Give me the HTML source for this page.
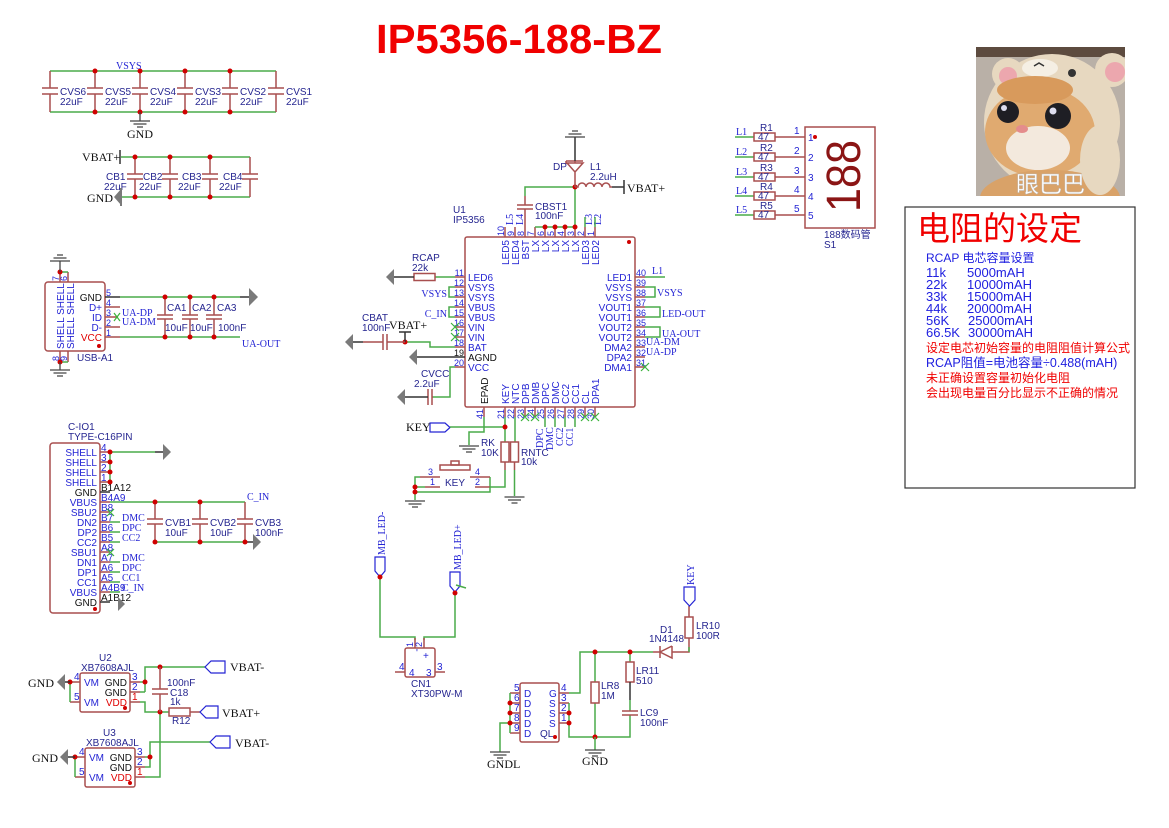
<!DOCTYPE html>
<html><head><meta charset="utf-8">
<style>
html,body{margin:0;padding:0;background:#fff;}
svg{display:block}
.w{stroke:#4aab4a;stroke-width:1.5;fill:none}
.p{stroke:#a84f4f;stroke-width:1.5;fill:none}
.pb{stroke:#a84f4f;stroke-width:1.5;fill:#fff}
.d{stroke:#333;stroke-width:1.5;fill:none}
.g{stroke:#444;stroke-width:1.3;fill:none}
.j{fill:#d00000}
.ar{fill:#7a7a7a}
.x{stroke:#3cb43c;stroke-width:1.2;fill:none}
.r{font-family:"Liberation Sans",sans-serif;font-size:10px;fill:#262690}
.pn{font-family:"Liberation Sans",sans-serif;font-size:10px;fill:#2424d4}
.nm{font-family:"Liberation Sans",sans-serif;font-size:9px;fill:#2424d4}
.nl{font-family:"Liberation Serif",serif;font-size:10px;fill:#2424d4}
.bk{font-family:"Liberation Serif",serif;font-size:12px;fill:#111}
.red{fill:#e00000}
.blk{fill:#111}
.cj{font-family:"Liberation Sans","Noto Sans CJK SC",sans-serif}
</style></head><body>
<svg width="1169" height="828" viewBox="0 0 1169 828" xmlns="http://www.w3.org/2000/svg">
<rect width="1169" height="828" fill="#fff"/>

<!-- Title -->
<text x="376" y="53" font-family="Liberation Sans, sans-serif" font-weight="bold" font-size="41" fill="#f00000" textLength="286" lengthAdjust="spacingAndGlyphs">IP5356-188-BZ</text>

<!-- ===== Top capacitor bank CVS ===== -->
<path class="w" d="M50 71H276M50 112H276"/>
<path class="p" d="M50 71V88M42 88H58M42 94H58M50 94V112
M95 71V88M87 88H103M87 94H103M95 94V112
M140 71V88M132 88H148M132 94H148M140 94V112
M185 71V88M177 88H193M177 94H193M185 94V112
M230 71V88M222 88H238M222 94H238M230 94V112
M276 71V88M268 88H284M268 94H284M276 94V112"/>
<g class="j"><circle cx="95" cy="71" r="2.5"/><circle cx="140" cy="71" r="2.5"/><circle cx="185" cy="71" r="2.5"/><circle cx="230" cy="71" r="2.5"/><circle cx="95" cy="112" r="2.5"/><circle cx="140" cy="112" r="2.5"/><circle cx="185" cy="112" r="2.5"/><circle cx="230" cy="112" r="2.5"/></g>
<g class="r">
<text x="60" y="95">CVS6</text><text x="60" y="105">22uF</text>
<text x="105" y="95">CVS5</text><text x="105" y="105">22uF</text>
<text x="150" y="95">CVS4</text><text x="150" y="105">22uF</text>
<text x="195" y="95">CVS3</text><text x="195" y="105">22uF</text>
<text x="240" y="95">CVS2</text><text x="240" y="105">22uF</text>
<text x="286" y="95">CVS1</text><text x="286" y="105">22uF</text>
</g>
<text class="nl" x="116" y="69">VSYS</text>
<path class="g" d="M140 112V121M130 121H150M133.5 124H146.5M137 127H143"/>
<text class="bk" x="127" y="138">GND</text>

<!-- ===== CB bank ===== -->
<path class="w" d="M121 157H250M121 197H250"/>
<path class="p" d="M135 157V174M127 174H143M127 179H143M135 179V197
M170 157V174M162 174H178M162 179H178M170 179V197
M210 157V174M202 174H218M202 179H218M210 179V197
M250 157V174M242 174H258M242 179H258M250 179V197"/>
<g class="j"><circle cx="135" cy="157" r="2.5"/><circle cx="170" cy="157" r="2.5"/><circle cx="210" cy="157" r="2.5"/><circle cx="135" cy="197" r="2.5"/><circle cx="170" cy="197" r="2.5"/><circle cx="210" cy="197" r="2.5"/></g>
<g class="r">
<text x="106" y="180">CB1</text><text x="104" y="190">22uF</text>
<text x="143" y="180">CB2</text><text x="139" y="190">22uF</text>
<text x="182" y="180">CB3</text><text x="178" y="190">22uF</text>
<text x="223" y="180">CB4</text><text x="219" y="190">22uF</text>
</g>
<text class="bk" x="82" y="161">VBAT+</text>
<path class="d" d="M120 150V164"/>
<text class="bk" x="87" y="202">GND</text>
<polygon class="ar" points="121,189 114,197 121,205"/>
<path stroke="#7a7a7a" stroke-width="2" d="M121 188V206"/>

<!-- ===== USB-A ===== -->
<rect x="45" y="282" width="60" height="69" rx="3" class="p"/>
<path class="p" d="M60 272V282M68 272V282M60 351V362M68 351V362"/>
<path class="w" d="M60 272H68M60 362H68"/>
<circle class="j" cx="60" cy="272" r="2.5"/><circle class="j" cx="60" cy="362" r="2.5"/>
<path class="g" d="M60 272V261M50 261H70M53.5 258H66.5M57 255H63"/>
<path class="g" d="M60 362V370M50 370H70M53.5 373H66.5M57 376H63"/>
<text class="nm" transform="translate(59,281) rotate(-90)">7</text>
<text class="nm" transform="translate(67,281) rotate(-90)">6</text>
<text class="nm" transform="translate(59,361) rotate(-90)">8</text>
<text class="nm" transform="translate(67,361) rotate(-90)">9</text>
<text class="pn" transform="translate(64,349) rotate(-90)">SHELL SHELL</text>
<text class="pn" transform="translate(74,349) rotate(-90)">SHELL SHELL</text>
<text class="pn blk" x="102" y="301" text-anchor="end">GND</text>
<text class="pn" x="102" y="311" text-anchor="end">D+</text>
<text class="pn" x="102" y="321" text-anchor="end">ID</text>
<text class="pn" x="102" y="331" text-anchor="end">D-</text>
<text class="pn red" x="102" y="341" text-anchor="end">VCC</text>
<circle class="j" cx="99" cy="346" r="2"/>
<path class="d" d="M105 297H120"/>
<path class="p" d="M105 307H120M105 317H118M105 327H120M105 337H120"/>
<g class="nm"><text x="106" y="296">5</text><text x="106" y="306">4</text><text x="106" y="316">3</text><text x="106" y="326">2</text><text x="106" y="336">1</text></g>
<path class="x" d="M114 313L120 321M120 313L114 321"/>
<path class="w" d="M120 297H240M120 337H240"/>
<path class="d" d="M240 297H249"/>
<polygon class="ar" points="249,288 258,297 249,306"/>
<path class="p" d="M165 297V315M157 315H173M157 319H173M165 319V337
M190 297V315M182 315H198M182 319H198M190 319V337
M214 297V315M206 315H222M206 319H222M214 319V337"/>
<g class="j"><circle cx="165" cy="297" r="2.5"/><circle cx="190" cy="297" r="2.5"/><circle cx="214" cy="297" r="2.5"/><circle cx="165" cy="337" r="2.5"/><circle cx="190" cy="337" r="2.5"/><circle cx="214" cy="337" r="2.5"/></g>
<g class="r">
<text x="167" y="311">CA1</text><text x="165" y="331">10uF</text>
<text x="192" y="311">CA2</text><text x="190" y="331">10uF</text>
<text x="217" y="311">CA3</text><text x="218" y="331">100nF</text>
</g>
<text class="nl" x="122" y="316">UA-DP</text>
<text class="nl" x="122" y="325">UA-DM</text>
<text class="nl" x="242" y="347">UA-OUT</text>
<text class="r" x="77" y="361">USB-A1</text>

<!-- ===== U1 IP5356 ===== -->
<text class="r" x="453" y="213">U1</text>
<text class="r" x="453" y="223">IP5356</text>
<rect x="465" y="237" width="170" height="170" rx="2" class="p"/>
<circle class="j" cx="629" cy="242" r="2"/>
<!-- top pins -->
<path class="p" d="M505 227V237M515 227V237M525 227V237M535 227V237M545 227V237M555 227V237M565 227V237M575 227V237M585 227V237M595 227V237"/>
<g class="nm">
<text transform="translate(504,236) rotate(-90)">10</text>
<text transform="translate(514,236) rotate(-90)">9</text>
<text transform="translate(524,236) rotate(-90)">8</text>
<text transform="translate(534,236) rotate(-90)">7</text>
<text transform="translate(544,236) rotate(-90)">6</text>
<text transform="translate(554,236) rotate(-90)">5</text>
<text transform="translate(564,236) rotate(-90)">4</text>
<text transform="translate(574,236) rotate(-90)">3</text>
<text transform="translate(584,236) rotate(-90)">2</text>
<text transform="translate(594,236) rotate(-90)">1</text>
</g>
<g class="pn" text-anchor="end">
<text transform="translate(509,240) rotate(-90)">LED5</text>
<text transform="translate(519,240) rotate(-90)">LED4</text>
<text transform="translate(529,240) rotate(-90)">BST</text>
<text transform="translate(539,240) rotate(-90)">LX</text>
<text transform="translate(549,240) rotate(-90)">LX</text>
<text transform="translate(559,240) rotate(-90)">LX</text>
<text transform="translate(569,240) rotate(-90)">LX</text>
<text transform="translate(579,240) rotate(-90)">LX</text>
<text transform="translate(589,240) rotate(-90)">LED3</text>
<text transform="translate(599,240) rotate(-90)">LED2</text>
</g>
<g class="nl">
<text transform="translate(513,225) rotate(-90)">L5</text>
<text transform="translate(523,225) rotate(-90)">L4</text>
<text transform="translate(592,225) rotate(-90)">L3</text>
<text transform="translate(601,225) rotate(-90)">L2</text>
</g>
<path class="w" d="M535 227H575M575 227V187M575 187H525V196M585 227V217M595 227V217"/>
<g class="j"><circle cx="545" cy="227" r="2.5"/><circle cx="555" cy="227" r="2.5"/><circle cx="565" cy="227" r="2.5"/><circle cx="575" cy="227" r="2.5"/><circle cx="575" cy="187" r="2.5"/></g>
<path class="p" d="M525 196V205M517 205H533M517 209H533M525 209V227"/>
<text class="r" x="535" y="210">CBST1</text>
<text class="r" x="535" y="219">100nF</text>
<!-- diode DP -->
<path class="p" d="M575 187V172M567 163H583L575 172Z M566 161H583M566 161V164M575 163V161"/>
<path class="d" d="M575 161V137"/>
<path class="g" d="M565 137H585M568.5 134H581.5M572 131H578"/>
<text class="r" x="553" y="170">DP</text>
<!-- inductor -->
<path class="p" d="M575 187H578a4 4 0 0 1 8 0a4 4 0 0 1 8 0a4 4 0 0 1 8 0a4 4 0 0 1 8 0H612"/>
<path class="d" d="M612 187H624M624 180V194"/>
<text class="r" x="590" y="170">L1</text>
<text class="r" x="590" y="180">2.2uH</text>
<text class="bk" x="627" y="192" font-size="13">VBAT+</text>

<!-- left pins -->
<path class="p" d="M455 277H465M455 287H465M455 297H465M455 307H465M455 317H465M455 327H465M455 337H465M455 347H465M455 367H465"/>
<path class="d" d="M455 357H465"/>
<g class="nm" text-anchor="end">
<text x="464" y="276">11</text><text x="464" y="286">12</text><text x="464" y="296">13</text><text x="464" y="306">14</text><text x="464" y="316">15</text><text x="464" y="326">16</text><text x="464" y="336">17</text><text x="464" y="346">18</text><text x="464" y="356" fill="#111">19</text><text x="464" y="366">20</text>
</g>
<g class="pn">
<text x="468" y="281">LED6</text><text x="468" y="291">VSYS</text><text x="468" y="301">VSYS</text><text x="468" y="311">VBUS</text><text x="468" y="321">VBUS</text><text x="468" y="331">VIN</text><text x="468" y="341">VIN</text><text x="468" y="351">BAT</text><text x="468" y="361" fill="#111">AGND</text><text x="468" y="371">VCC</text>
</g>
<!-- right pins -->
<path class="p" d="M635 277H645M635 287H645M635 297H645M635 307H645M635 317H645M635 327H645M635 337H645M635 347H645M635 357H645M635 367H645"/>
<g class="nm">
<text x="636" y="276">40</text><text x="636" y="286">39</text><text x="636" y="296">38</text><text x="636" y="306">37</text><text x="636" y="316">36</text><text x="636" y="326">35</text><text x="636" y="336">34</text><text x="636" y="346">33</text><text x="636" y="356">32</text><text x="636" y="366">31</text>
</g>
<g class="pn" text-anchor="end">
<text x="632" y="281">LED1</text><text x="632" y="291">VSYS</text><text x="632" y="301">VSYS</text><text x="632" y="311">VOUT1</text><text x="632" y="321">VOUT1</text><text x="632" y="331">VOUT2</text><text x="632" y="341">VOUT2</text><text x="632" y="351">DMA2</text><text x="632" y="361">DPA2</text><text x="632" y="371">DMA1</text>
</g>
<path class="w" d="M645 277H665M645 287H655V297H645M645 307H660V317H645M645 327H660V337H645"/>
<text class="nl" x="652" y="274">L1</text>
<text class="nl" x="657" y="296">VSYS</text>
<text class="nl" x="662" y="317">LED-OUT</text>
<text class="nl" x="662" y="337">UA-OUT</text>
<text class="nl" x="646" y="345">UA-DM</text>
<text class="nl" x="646" y="355">UA-DP</text>
<path class="x" d="M641 363L649 371M649 363L641 371"/>
<!-- bottom pins -->
<path class="p" d="M484 407V417M505 407V417M515 407V417M525 407V417M535 407V417M545 407V417M555 407V417M565 407V417M575 407V417M585 407V417M595 407V417"/>
<g class="nm">
<text transform="translate(483,419) rotate(-90)">41</text>
<text transform="translate(504,419) rotate(-90)">21</text>
<text transform="translate(514,419) rotate(-90)">22</text>
<text transform="translate(524,419) rotate(-90)">23</text>
<text transform="translate(534,419) rotate(-90)">24</text>
<text transform="translate(544,419) rotate(-90)">25</text>
<text transform="translate(554,419) rotate(-90)">26</text>
<text transform="translate(564,419) rotate(-90)">27</text>
<text transform="translate(574,419) rotate(-90)">28</text>
<text transform="translate(584,419) rotate(-90)">29</text>
<text transform="translate(594,419) rotate(-90)">30</text>
</g>
<g class="pn">
<text transform="translate(488,404) rotate(-90)" fill="#111">EPAD</text>
<text transform="translate(509,404) rotate(-90)">KEY</text>
<text transform="translate(519,404) rotate(-90)">NTC</text>
<text transform="translate(529,404) rotate(-90)">DPB</text>
<text transform="translate(539,404) rotate(-90)">DMB</text>
<text transform="translate(549,404) rotate(-90)">DPC</text>
<text transform="translate(559,404) rotate(-90)">DMC</text>
<text transform="translate(569,404) rotate(-90)">CC2</text>
<text transform="translate(579,404) rotate(-90)">CC1</text>
<text transform="translate(589,404) rotate(-90)">CL</text>
<text transform="translate(599,404) rotate(-90)">DPA1</text>
</g>
<path class="x" d="M521 413L529 421M529 413L521 421M531 413L539 421M539 413L531 421M581 413L589 421M589 413L581 421M591 413L599 421M599 413L591 421"/>
<path class="w" d="M545 417V427M555 417V427M565 417V427M575 417V427"/>
<g class="nl" font-size="9.5">
<text transform="translate(543,448) rotate(-90)">DPC</text>
<text transform="translate(553,450) rotate(-90)">DMC</text>
<text transform="translate(563,446) rotate(-90)">CC2</text>
<text transform="translate(573,446) rotate(-90)">CC1</text>
</g>
<!-- left side wiring -->
<path class="w" d="M455 277H435"/>
<rect x="414" y="273.5" width="21" height="7" class="pb"/>
<path class="d" d="M414 277H394"/>
<polygon class="ar" points="394,269 386,277 394,285"/>
<text class="r" x="412" y="261">RCAP</text>
<text class="r" x="412" y="271">22k</text>
<path class="w" d="M455 287H449V297H455M455 307H449V317H455"/>
<text class="nl" x="447" y="297" text-anchor="end">VSYS</text>
<text class="nl" x="447" y="317" text-anchor="end">C_IN</text>
<path class="x" d="M451 323L459 331M459 323L451 331M451 333L459 341M459 333L451 341"/>
<path class="w" d="M455 347H430V342H405"/>
<circle class="j" cx="405" cy="342" r="2.5"/>
<path class="d" d="M405 342V332M399 332H411"/>
<text class="bk" x="389" y="329">VBAT+</text>
<path class="p" d="M405 342H387M387 334V350M383 334V350M383 342H363"/>
<path class="d" d="M363 342H353"/>
<polygon class="ar" points="353,334 345,342 353,350"/>
<text class="r" x="362" y="321">CBAT</text>
<text class="r" x="362" y="331">100nF</text>
<path class="d" d="M455 357H417"/>
<polygon class="ar" points="417,349 409,357 417,365"/>
<path class="w" d="M455 367H450V397H433"/>
<path class="p" d="M433 397H432M432 389V405M428 389V405"/>
<path class="d" d="M428 397H405"/>
<polygon class="ar" points="405,389 397,397 405,405"/>
<text class="r" x="421" y="377">CVCC</text>
<text class="r" x="414" y="387">2.2uF</text>
<!-- bottom wiring -->
<path class="w" d="M484 417V432H469V445"/>
<path class="g" d="M459 446H479M462.5 449H475.5M466 452H472"/>
<polygon points="430,423 445,423 450,427.5 445,432 430,432" fill="#fff" stroke="#2424d4" stroke-width="1.2"/>
<text class="bk" x="406" y="431" fill="#2424d4">KEY</text>
<path class="w" d="M450 427H505M505 417V442M515 417V442"/>
<circle class="j" cx="505" cy="427" r="2.5"/>
<rect x="501" y="442" width="8" height="20" class="pb"/>
<rect x="510.5" y="442" width="8" height="20" class="pb"/>
<path class="p" d="M505 462V470M514.5 462V470"/>
<path class="w" d="M505 470V487H490V477M514.5 470V496"/>
<path class="g" d="M504.5 497H524.5M508 500H521M511.5 503H517.5"/>
<text class="r" x="481" y="446">RK</text>
<text class="r" x="481" y="456">10K</text>
<text class="r" x="521" y="456">RNTC</text>
<text class="r" x="521" y="465">10k</text>
<!-- KEY switch -->
<rect x="440" y="465" width="30" height="5" class="p"/>
<rect x="451" y="461" width="8" height="4" class="p"/>
<path class="p" d="M420 477H440M470 477H490M425 487H440M475 487H490"/>
<g class="nm" font-size="10"><text x="428" y="475">3</text><text x="475" y="475">4</text><text x="430" y="485">1</text><text x="475" y="485">2</text></g>
<text class="r" x="445" y="486">KEY</text>
<path class="w" d="M420 477H415V500M415 487H425M415 492H490V487"/>
<circle class="j" cx="415" cy="487" r="2.5"/><circle class="j" cx="415" cy="492" r="2.5"/>
<path class="g" d="M405 501H425M408.5 504H421.5M412 507H418"/>

<!-- ===== 188 display ===== -->
<rect x="805" y="127" width="70" height="101" class="p"/>
<g>
<path class="w" d="M735 137H754M735 157H754M735 177H754M735 196H754M735 215H754"/>
<rect x="754" y="133" width="21" height="8" class="pb"/>
<rect x="754" y="153" width="21" height="8" class="pb"/>
<rect x="754" y="173" width="21" height="8" class="pb"/>
<rect x="754" y="192" width="21" height="8" class="pb"/>
<rect x="754" y="211" width="21" height="8" class="pb"/>
<path class="p" d="M775 137H805M775 157H805M775 177H805M775 196H805M775 215H805"/>
</g>
<g class="r" font-size="9">
<text x="758" y="140">47</text><text x="758" y="160">47</text><text x="758" y="180">47</text><text x="758" y="199">47</text><text x="758" y="218">47</text>
</g>
<g class="r">
<text x="760" y="131">R1</text><text x="760" y="151">R2</text><text x="760" y="171">R3</text><text x="760" y="190">R4</text><text x="760" y="209">R5</text>
</g>
<g class="nl">
<text x="736" y="135">L1</text><text x="736" y="155">L2</text><text x="736" y="175">L3</text><text x="736" y="194">L4</text><text x="736" y="213">L5</text>
</g>
<g class="pn">
<text x="794" y="134">1</text><text x="794" y="154">2</text><text x="794" y="174">3</text><text x="794" y="193">4</text><text x="794" y="212">5</text>
<text x="808" y="141">1</text><text x="808" y="161">2</text><text x="808" y="181">3</text><text x="808" y="200">4</text><text x="808" y="219">5</text>
</g>
<circle class="j" cx="815" cy="137" r="2"/>
<text transform="translate(860,212) rotate(-90)" font-family="Liberation Sans, sans-serif" font-size="48" fill="#8b1515" textLength="72" lengthAdjust="spacingAndGlyphs">188</text>
<text class="r cj" x="824" y="238">188数码管</text>
<text class="r" x="824" y="248">S1</text>

<!-- ===== Cat image ===== -->
<clipPath id="cp"><rect x="976" y="47" width="149" height="149"/></clipPath>
<g clip-path="url(#cp)">
<rect x="976" y="47" width="149" height="149" fill="#b9b0a7"/>
<rect x="976" y="47" width="149" height="10" fill="#5d4b3f"/>
<ellipse cx="1052" cy="122" rx="68" ry="68" fill="#e7d8c0"/>
<circle cx="1008" cy="74" r="16" fill="#e7d8c0"/><circle cx="1008" cy="76" r="9" fill="#eca7ae"/>
<circle cx="1112" cy="70" r="17" fill="#e7d8c0"/><circle cx="1115" cy="72" r="10" fill="#eca7ae"/>
<ellipse cx="1040" cy="68" rx="18" ry="9" fill="#f5efe4"/>
<circle cx="1072" cy="73" r="4" fill="#333"/>
<path d="M1034 66l5 -3 5 3" stroke="#333" stroke-width="1.5" fill="none"/>
<ellipse cx="1040" cy="132" rx="55" ry="45" fill="#e0aa70"/>
<ellipse cx="1035" cy="90" rx="38" ry="14" fill="#d89a5c"/>
<ellipse cx="1038" cy="148" rx="32" ry="22" fill="#f3e9dd"/>
<ellipse cx="1050" cy="198" rx="70" ry="28" fill="#d9a268"/>
<ellipse cx="1100" cy="160" rx="20" ry="35" fill="#e7d8c0"/>
<circle cx="1008" cy="112" r="11" fill="#1e1e24"/>
<circle cx="1058" cy="116" r="13" fill="#1e1e24"/>
<circle cx="1004" cy="108" r="3" fill="#dde"/>
<circle cx="1053" cy="111" r="3.5" fill="#dde"/>
<ellipse cx="1022" cy="129" rx="6" ry="4" fill="#e48c8c"/>
</g>
<text x="1016" y="192" class="cj" font-size="23" fill="#fff" stroke="#bbb" stroke-width="0.4">眼巴巴</text>

<!-- ===== Text box ===== -->
<rect x="905" y="207" width="230" height="281" fill="none" stroke="#333" stroke-width="1.2"/>
<text x="917" y="240" class="cj" font-size="33" fill="#f00000">电阻的设定</text>
<g class="cj" fill="#2020e0">
<text x="926" y="262" font-size="12">RCAP 电芯容量设置</text>
<text x="926" y="277" font-size="13">11k</text><text x="967" y="277" font-size="13">5000mAH</text>
<text x="926" y="289" font-size="13">22k</text><text x="967" y="289" font-size="13">10000mAH</text>
<text x="926" y="301" font-size="13">33k</text><text x="967" y="301" font-size="13">15000mAH</text>
<text x="926" y="313" font-size="13">44k</text><text x="967" y="313" font-size="13">20000mAH</text>
<text x="926" y="325" font-size="13">56K</text><text x="968" y="325" font-size="13">25000mAH</text>
<text x="926" y="337" font-size="13">66.5K</text><text x="968" y="337" font-size="13">30000mAH</text>
<text x="926" y="367" font-size="12.5">RCAP阻值=电池容量÷0.488(mAH)</text>
</g>
<g class="cj" fill="#f00000" font-size="12">
<text x="926" y="352">设定电芯初始容量的电阻阻值计算公式</text>
<text x="926" y="382">未正确设置容量初始化电阻</text>
<text x="926" y="397">会出现电量百分比显示不正确的情况</text>
</g>

<!-- ===== C-IO1 Type-C ===== -->
<text class="r" x="68" y="430">C-IO1</text>
<text class="r" x="68" y="440">TYPE-C16PIN</text>
<rect x="50" y="443" width="50" height="170" rx="3" class="p"/>
<circle class="j" cx="95" cy="609" r="2"/>
<path class="p" d="M100 452H110M100 462H110M100 472H110M100 482H110M100 502H110M100 512H110M100 522H110M100 532H110M100 542H110M100 552H110M100 562H110M100 572H110M100 582H110M100 592H110"/>
<path class="d" d="M100 492H110M100 602H110"/>
<g class="pn" text-anchor="end">
<text x="97" y="456">SHELL</text><text x="97" y="466">SHELL</text><text x="97" y="476">SHELL</text><text x="97" y="486">SHELL</text>
<text x="97" y="496" fill="#111">GND</text><text x="97" y="506">VBUS</text><text x="97" y="516">SBU2</text><text x="97" y="526">DN2</text><text x="97" y="536">DP2</text><text x="97" y="546">CC2</text><text x="97" y="556">SBU1</text><text x="97" y="566">DN1</text><text x="97" y="576">DP1</text><text x="97" y="586">CC1</text><text x="97" y="596">VBUS</text><text x="97" y="606" fill="#111">GND</text>
</g>
<g class="pn">
<text x="101" y="451">4</text><text x="101" y="461">3</text><text x="101" y="471">2</text><text x="101" y="481">1</text>
<text x="101" y="491" fill="#111">B1A12</text><text x="101" y="501">B4A9</text><text x="101" y="511">B8</text><text x="101" y="521">B7</text><text x="101" y="531">B6</text><text x="101" y="541">B5</text><text x="101" y="551">A8</text><text x="101" y="561">A7</text><text x="101" y="571">A6</text><text x="101" y="581">A5</text><text x="101" y="591">A4B9</text><text x="101" y="601" fill="#111">A1B12</text>
</g>
<path class="w" d="M110 452V482M110 452H155"/>
<path class="d" d="M155 452H163"/>
<polygon class="ar" points="163,444 171,452 163,460"/>
<g class="j"><circle cx="110" cy="452" r="2.5"/><circle cx="110" cy="462" r="2.5"/><circle cx="110" cy="472" r="2.5"/><circle cx="110" cy="482" r="2.5"/></g>
<path class="w" d="M110 502H245M155 542H245M110 522H120M110 532H120M110 542H120M110 562H120M110 572H120M110 582H120M110 592H120"/>
<path class="d" d="M245 542H253"/>
<polygon class="ar" points="253,534 261,542 253,550"/>
<path class="p" d="M155 502V519M147 519H163M147 524H163M155 524V542
M200 502V519M192 519H208M192 524H208M200 524V542
M245 502V519M237 519H253M237 524H253M245 524V542"/>
<g class="j"><circle cx="155" cy="502" r="2.5"/><circle cx="200" cy="502" r="2.5"/><circle cx="155" cy="542" r="2.5"/><circle cx="200" cy="542" r="2.5"/><circle cx="245" cy="542" r="2.5"/></g>
<g class="r">
<text x="165" y="526">CVB1</text><text x="165" y="536">10uF</text>
<text x="210" y="526">CVB2</text><text x="210" y="536">10uF</text>
<text x="255" y="526">CVB3</text><text x="255" y="536">100nF</text>
</g>
<text class="nl" x="247" y="500">C_IN</text>
<path class="x" d="M107 509L114 516M114 509L107 516M107 549L114 556M114 549L107 556"/>
<g class="nl">
<text x="122" y="521">DMC</text><text x="122" y="531">DPC</text><text x="122" y="541">CC2</text>
<text x="122" y="561">DMC</text><text x="122" y="571">DPC</text><text x="122" y="581">CC1</text><text x="122" y="591">C_IN</text>
</g>
<polygon class="ar" points="118,597 125,604 118,611"/>

<!-- ===== U2 ===== -->
<text class="r" x="99" y="661">U2</text>
<text class="r" x="81" y="671">XB7608AJL</text>
<rect x="80" y="673" width="50" height="39" rx="2" class="p"/>
<circle class="j" cx="125" cy="708" r="2"/>
<path class="p" d="M70 682H80M70 702H80M130 682H140M130 692H140M130 702H140"/>
<g class="pn">
<text x="74" y="680">4</text><text x="74" y="700">5</text>
<text x="132" y="680">3</text><text x="132" y="690">2</text><text x="132" y="700" fill="#e00000">1</text>
<text x="84" y="686">VM</text><text x="84" y="706">VM</text>
</g>
<g class="pn" text-anchor="end"><text x="127" y="686" fill="#111">GND</text><text x="127" y="696" fill="#111">GND</text><text x="127" y="706" fill="#e00000">VDD</text></g>
<path class="w" d="M70 682V702M140 682H145M140 692H145M145 692V667H205M140 702H145V712H169M160 712V777H145"/>
<circle class="j" cx="70" cy="682" r="2.5"/><circle class="j" cx="145" cy="682" r="2.5"/>
<circle class="j" cx="160" cy="667" r="2.5"/><circle class="j" cx="160" cy="712" r="2.5"/>
<path class="d" d="M70 682H65"/>
<polygon class="ar" points="65,674 57,682 65,690"/>
<text class="bk" x="28" y="687">GND</text>
<path class="p" d="M160 667V689M152 689H168M152 694H168M160 694V712"/>
<text class="r" x="167" y="686">100nF</text>
<text class="r" x="170" y="696">C18</text>
<rect x="169" y="708" width="21" height="8" class="pb"/>
<path class="p" d="M190 712H200"/>
<text class="r" x="170" y="705">1k</text>
<text class="r" x="172" y="724">R12</text>
<polygon points="200,712 206,706 218,706 218,718 206,718" fill="#fff" stroke="#2424d4" stroke-width="1.2"/>
<text class="bk" x="222" y="717" fill="#2424d4">VBAT+</text>
<polygon points="205,667 211,661 225,661 225,673 211,673" fill="#fff" stroke="#2424d4" stroke-width="1.2"/>
<text class="bk" x="230" y="671" fill="#2424d4">VBAT-</text>

<!-- ===== U3 ===== -->
<text class="r" x="103" y="736">U3</text>
<text class="r" x="86" y="746">XB7608AJL</text>
<rect x="85" y="748" width="50" height="39" rx="2" class="p"/>
<circle class="j" cx="130" cy="783" r="2"/>
<path class="p" d="M75 757H85M75 777H85M135 757H145M135 767H145M135 777H145"/>
<g class="pn">
<text x="79" y="755">4</text><text x="79" y="775">5</text>
<text x="137" y="755">3</text><text x="137" y="765">2</text><text x="137" y="775" fill="#e00000">1</text>
<text x="89" y="761">VM</text><text x="89" y="781">VM</text>
</g>
<g class="pn" text-anchor="end"><text x="132" y="761" fill="#111">GND</text><text x="132" y="771" fill="#111">GND</text><text x="132" y="781" fill="#e00000">VDD</text></g>
<path class="w" d="M75 757V777M145 757H150M145 767H150V742H210"/>
<circle class="j" cx="75" cy="757" r="2.5"/><circle class="j" cx="150" cy="757" r="2.5"/>
<path class="d" d="M75 757H68"/>
<polygon class="ar" points="68,749 60,757 68,765"/>
<text class="bk" x="32" y="762">GND</text>
<polygon points="210,742 216,736 230,736 230,748 216,748" fill="#fff" stroke="#2424d4" stroke-width="1.2"/>
<text class="bk" x="235" y="747" fill="#2424d4">VBAT-</text>

<!-- ===== CN1 XT30 ===== -->
<polygon points="375,557 385,557 385,571 380,577 375,571" fill="#fff" stroke="#2424d4" stroke-width="1.2"/>
<text class="nl" transform="translate(385,555) rotate(-90)">MB_LED-</text>
<polygon points="450,572 460,572 460,586 455,592 450,586" fill="#fff" stroke="#2424d4" stroke-width="1.2"/>
<text class="nl" transform="translate(461,570) rotate(-90)">MB_LED+</text>
<path class="w" d="M380 577V637H415V640M455 593V637H424V640M456 585L466 588"/>
<circle class="j" cx="380" cy="577" r="2.5"/><circle class="j" cx="455" cy="593" r="2.5"/>
<rect x="405" y="648" width="30" height="29" rx="2" class="p"/>
<path class="p" d="M415 638V648M424 638V648M395 672H405M435 672H445"/>
<g class="nm"><text transform="translate(413,647) rotate(-90)">1</text><text transform="translate(422,647) rotate(-90)">2</text></g>
<text class="pn" x="416" y="656">'</text>
<text class="pn" x="423" y="659">+</text>
<g class="pn"><text x="399" y="670">4</text><text x="409" y="676">4</text><text x="426" y="676">3</text><text x="437" y="670">3</text></g>
<text class="r" x="411" y="687">CN1</text>
<text class="r" x="411" y="697">XT30PW-M</text>

<!-- ===== QL / discharge circuit ===== -->
<rect x="520" y="683" width="39" height="59" rx="2" class="p"/>
<circle class="j" cx="555" cy="737" r="2"/>
<path class="p" d="M510 693H520M510 703H520M510 713H520M510 723H520M510 733H520M559 693H569M559 703H569M559 713H569M559 723H569"/>
<g class="pn">
<text x="514" y="691">5</text><text x="514" y="701">6</text><text x="514" y="711">7</text><text x="514" y="721">8</text><text x="514" y="731">9</text>
<text x="524" y="697">D</text><text x="524" y="707">D</text><text x="524" y="717">D</text><text x="524" y="727">D</text><text x="524" y="737">D</text>
<text x="561" y="691">4</text><text x="561" y="701">3</text><text x="561" y="711">2</text><text x="561" y="721">1</text>
<text x="549" y="697">G</text><text x="549" y="707">S</text><text x="549" y="717">S</text><text x="549" y="727">S</text>
<text x="540" y="737" fill="#262690">QL</text>
</g>
<path class="w" d="M510 693V733M510 723H500V752M569 693H580V652H653M569 703V737H630V715M595 652V682M595 703V737M630 652V662"/>
<g class="j"><circle cx="510" cy="703" r="2.5"/><circle cx="510" cy="713" r="2.5"/><circle cx="510" cy="723" r="2.5"/><circle cx="569" cy="713" r="2.5"/><circle cx="569" cy="723" r="2.5"/><circle cx="595" cy="652" r="2.5"/><circle cx="630" cy="652" r="2.5"/><circle cx="595" cy="737" r="2.5"/></g>
<path class="g" d="M490 752H510M493.5 755H506.5M497 758H503"/>
<text class="bk" x="487" y="768">GNDL</text>
<path class="w" d="M595 737V750"/>
<path class="g" d="M585 750H605M588.5 753H601.5M592 756H598"/>
<text class="bk" x="582" y="765">GND</text>
<rect x="591" y="682" width="8" height="21" class="pb"/>
<text class="r" x="601" y="689">LR8</text>
<text class="r" x="601" y="699">1M</text>
<rect x="626" y="662" width="8" height="20" class="pb"/>
<text class="r" x="636" y="674">LR11</text>
<text class="r" x="636" y="684">510</text>
<path class="d" d="M630 682V700"/>
<path class="w" d="M630 700V711"/>
<path class="p" d="M622 711H638M622 715H638"/>
<text class="r" x="640" y="716">LC9</text>
<text class="r" x="640" y="726">100nF</text>
<path class="p" d="M653 652H660M660 646V658M672 646V658L660 652L672 646M672 652H689V647"/>
<path class="w" d="M689 647V652"/>
<text class="r" x="660" y="633">D1</text>
<text class="r" x="649" y="642">1N4148</text>
<rect x="685" y="617" width="8" height="21" class="pb"/>
<path class="p" d="M689 638V647M689 606V617"/>
<text class="r" x="696" y="629">LR10</text>
<text class="r" x="696" y="639">100R</text>
<polygon points="684,587 695,587 695,600 689.5,606 684,600" fill="#fff" stroke="#2424d4" stroke-width="1.2"/>
<text class="nl" transform="translate(694,585) rotate(-90)">KEY</text>
</svg>
</body></html>
